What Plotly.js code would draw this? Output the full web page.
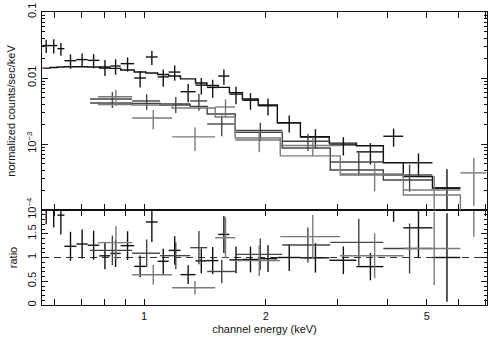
<!DOCTYPE html>
<html>
<head>
<meta charset="utf-8">
<script src="https://cdn.plot.ly/plotly-3.0.1.min.js"></script>
<style>
  html, body { margin: 0; padding: 0; background: white; }
  #plot { width: 498px; height: 338px; }
</style>
</head>
<body>
<div id="plot"></div>
<script>
// bin edges (keV), data, errors and folded model for each spectrum
const edgesA = [0.56, 0.585, 0.61, 0.635, 0.68, 0.725, 0.775, 0.825, 0.875, 0.945, 1.01, 1.08, 1.15,
  1.23, 1.34, 1.43, 1.525, 1.625, 1.75, 1.915, 2.135, 2.435, 2.87, 3.35, 3.905, 4.375, 5.165, 6.055];
const dataA = [0.031, 0.031, 0.0278, 0.0183, 0.019, 0.0185, 0.0147, 0.0152, 0.0165, 0.0100, 0.0208, 0.0104,
  0.0123, 0.0062, 0.0078, 0.0072, 0.0107, 0.0057, 0.0046, 0.0038, 0.0021, 0.00128, 0.00097, 0.00076,
  0.00131, 0.00052, 0.000215];
const errA = [0.007, 0.0075, 0.006, 0.0045, 0.0045, 0.0045, 0.004, 0.004, 0.004, 0.0028, 0.005, 0.003,
  0.0032, 0.0019, 0.0022, 0.0022, 0.0028, 0.0017, 0.0013, 0.0011, 0.0006, 0.0004, 0.0003, 0.00027,
  0.0004, 0.0002, 0.0002];
const modelA = [0.0141, 0.0144, 0.0147, 0.0148, 0.0148, 0.0147, 0.0142, 0.014, 0.0132, 0.0123, 0.0119,
  0.0113, 0.0107, 0.0097, 0.0084, 0.0077, 0.0072, 0.0060, 0.0048, 0.0039, 0.0021, 0.00129, 0.00103,
  0.00094, 0.00052, 0.00032, 0.000215];

const edgesB = [0.735, 0.934, 1.095, 1.30, 1.432, 1.68, 2.196, 2.886, 3.905, 5.164];
const dataB = [0.00481, 0.00449, 0.00405, 0.00449, 0.00201, 0.0016, 0.0011, 0.000533, 0.000339];
const errB = [0.0013, 0.0012, 0.0011, 0.0013, 0.0007, 0.0005, 0.00032, 0.0002, 0.00015];
const modelB = [0.00418, 0.00412, 0.0039, 0.00372, 0.00285, 0.0015, 0.00087, 0.000404, 0.000285];

const edgesC = [0.769, 0.934, 1.173, 1.499, 1.68, 2.171, 3.055, 4.377, 6.056, 7.02];
const dataC = [0.00521, 0.00248, 0.00128, 0.00364, 0.00115, 0.00095, 0.000351, 0.000201, 0.000365];
const errC = [0.0014, 0.0008, 0.0005, 0.0011, 0.0004, 0.0003, 0.00016, 0.00013, 0.00025];
const modelC = [0.00397, 0.0039, 0.00351, 0.00257, 0.00123, 0.00066, 0.000339, 0.000169, 0.00008];

// axis ticks
const xMajor = [1, 2, 5];
const xMajorText = ['1', '2', '5'];
const xMinor = [0.6, 0.7, 0.8, 0.9, 3, 4, 6, 7];
const yMajor = [0.0001, 0.001, 0.01, 0.1];
const yMajorText = ['10<sup>\u22124</sup>', '10<sup>\u22123</sup>', '0.01', '0.1'];
const yMinor = [2e-4, 3e-4, 4e-4, 5e-4, 6e-4, 7e-4, 8e-4, 9e-4, 2e-3, 3e-3, 4e-3, 5e-3, 6e-3, 7e-3, 8e-3, 9e-3,
  0.02, 0.03, 0.04, 0.05, 0.06, 0.07, 0.08, 0.09];
const rMajor = [0, 0.5, 1, 1.5];
const rMajorText = ['0', '0.5', '1', '1.5'];

const sets = [
  { e: edgesA, y: dataA, err: errA, m: modelA, color: '#111111' },
  { e: edgesB, y: dataB, err: errB, m: modelB, color: '#444444' },
  { e: edgesC, y: dataC, err: errC, m: modelC, color: '#7a7a7a' },
];

const traces = [];
sets.forEach(s => {
  const mid = s.y.map((_, i) => (s.e[i] + s.e[i + 1]) / 2);
  const half = s.y.map((_, i) => (s.e[i + 1] - s.e[i]) / 2);
  const ratio = s.y.map((v, i) => v / s.m[i]);
  const ratioErr = s.err.map((v, i) => v / s.m[i]);
  const bar = (arr) => ({ type: 'data', array: arr, visible: true, width: 0, thickness: 1.4, color: s.color });

  // spectrum crosses
  traces.push({
    x: mid, y: s.y, xaxis: 'x2', yaxis: 'y2', type: 'scatter', mode: 'markers',
    marker: { size: 1, color: 'rgba(0,0,0,0)' },
    error_x: bar(half), error_y: bar(s.err), showlegend: false, hoverinfo: 'x+y',
  });
  // folded model histogram
  traces.push({
    x: s.e, y: s.m.concat([s.m[s.m.length - 1]]), xaxis: 'x2', yaxis: 'y2', type: 'scatter', mode: 'lines',
    line: { shape: 'hv', color: s.color, width: 1.4 }, showlegend: false, hoverinfo: 'skip',
  });
  // ratio crosses
  traces.push({
    x: mid, y: ratio, xaxis: 'x', yaxis: 'y', type: 'scatter', mode: 'markers',
    marker: { size: 1, color: 'rgba(0,0,0,0)' },
    error_x: bar(half), error_y: bar(ratioErr), showlegend: false, hoverinfo: 'x+y',
  });
});

const font = { family: 'Liberation Sans, Arial, sans-serif', size: 11, color: '#111' };
const split = 95 / 293;

const axisCommon = {
  showline: true, linecolor: '#111', linewidth: 1.4, mirror: 'ticks',
  ticks: 'inside', ticklen: 6, tickwidth: 1, tickcolor: '#111',
  showgrid: false, zeroline: false, automargin: false, tickfont: font,
};

const layout = {
  width: 498, height: 338,
  paper_bgcolor: 'white', plot_bgcolor: 'white',
  font: font,
  margin: { l: 42, r: 11, t: 12, b: 33 },
  xaxis: Object.assign({}, axisCommon, {
    type: 'log', range: [-0.2526, 0.848], anchor: 'y',
    tickmode: 'array', tickvals: xMajor, ticktext: xMajorText,
    minor: { tickmode: 'array', tickvals: xMinor, ticks: 'inside', ticklen: 6, tickcolor: '#111', showgrid: false },
    title: { text: 'channel energy (keV)', font: font, standoff: 4 },
  }),
  xaxis2: Object.assign({}, axisCommon, {
    type: 'log', range: [-0.2526, 0.848], anchor: 'y2', matches: 'x', showticklabels: false,
    tickmode: 'array', tickvals: xMajor,
    minor: { tickmode: 'array', tickvals: xMinor, ticks: 'inside', ticklen: 6, tickcolor: '#111', showgrid: false },
  }),
  yaxis: Object.assign({}, axisCommon, {
    domain: [0, split], range: [0, 2], anchor: 'x',
    tickmode: 'array', tickvals: rMajor, ticktext: rMajorText, tickangle: -90,
    minor: { tickmode: 'linear', tick0: 0, dtick: 0.1, ticks: 'inside', ticklen: 3, tickcolor: '#111', showgrid: false },
    title: { text: 'ratio', font: font, standoff: 6 },
  }),
  yaxis2: Object.assign({}, axisCommon, {
    type: 'log', domain: [split, 1], range: [-4, -1], anchor: 'x2',
    tickmode: 'array', tickvals: yMajor, ticktext: yMajorText, tickangle: -90,
    minor: { tickmode: 'array', tickvals: yMinor, ticks: 'inside', ticklen: 3, tickcolor: '#111', showgrid: false },
    title: { text: 'normalized counts/sec/keV', font: font, standoff: 6 },
  }),
  shapes: [{
    type: 'line', xref: 'paper', x0: 0, x1: 1, yref: 'y', y0: 1, y1: 1,
    line: { color: '#333', width: 1.2, dash: '7px,5px' }, layer: 'below',
  }],
};

Plotly.newPlot('plot', traces, layout, { staticPlot: true });
</script>
</body>
</html>
